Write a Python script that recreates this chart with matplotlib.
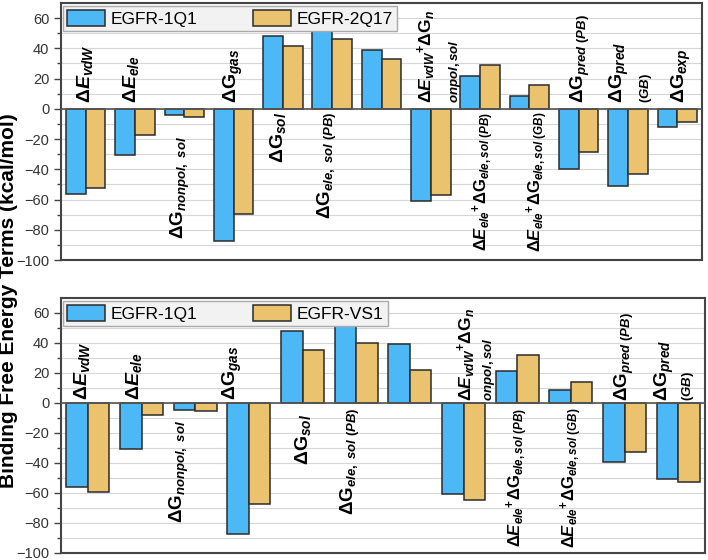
import matplotlib
matplotlib.use("Agg")
import matplotlib.pyplot as plt
from matplotlib.patches import Patch
import numpy as np

plt.rcParams['font.family'] = ['Liberation Sans', 'DejaVu Sans']
plt.rcParams['mathtext.fontset'] = 'custom'
plt.rcParams['mathtext.rm'] = 'Liberation Sans:bold'
plt.rcParams['mathtext.it'] = 'Liberation Sans:italic:bold'
plt.rcParams['mathtext.bf'] = 'Liberation Sans:bold'
plt.rcParams['mathtext.sf'] = 'Liberation Sans:bold'

# ---------------- data ----------------
series_top = ["EGFR-1Q1", "EGFR-2Q17"]
top_1q1 = [-56.5, -30.7, -4.4, -87.2, 47.9, 52.3, 39.1, -61.1, 21.4, 8.4, -39.5, -50.8, -11.9]
top_2q17 = [-52.5, -17.2, -5.1, -69.5, 41.3, 46.1, 33.3, -57.2, 28.9, 16.1, -28.5, -43.3, -8.6]

series_bot = ["EGFR-1Q1", "EGFR-VS1"]
bot_1q1 = [-56.2, -30.7, -4.4, -87.3, 48.0, 52.0, 39.1, -60.7, 21.6, 8.4, -39.3, -50.4]
bot_vs1 = [-59.6, -8.0, -5.6, -67.3, 35.1, 40.2, 22.2, -64.7, 32.2, 14.2, -32.7, -52.7]

labels = [
    r'$\Delta E_{vdW}$',
    r'$\Delta E_{ele}$',
    r'$\Delta \mathrm{G}_{nonpol,\ sol}$',
    r'$\Delta \mathrm{G}_{gas}$',
    r'$\Delta \mathrm{G}_{sol}$',
    r'$\Delta \mathrm{G}_{ele,\ sol\ (PB)}$',
    None,
    r'$\Delta E_{vdW}{}^{+}\Delta \mathrm{G}_{n}$',
    r'$\Delta E_{ele}{}^{+}\Delta \mathrm{G}_{ele,sol\ (PB)}$',
    r'$\Delta E_{ele}{}^{+}\Delta \mathrm{G}_{ele,sol\ (GB)}$',
    r'$\Delta \mathrm{G}_{pred\ (PB)}$',
    r'$\Delta \mathrm{G}_{pred}$',
    r'$\Delta \mathrm{G}_{exp}$',
]
extra_labels = {7: r'$onpol,sol$', 11: r'$(GB)$'}

yticks = [-100, -80, -60, -40, -20, 0, 20, 40, 60]
ylabel = "Binding Free Energy Terms (kcal/mol)"

# ---------------- layout / style ----------------
BLUE = "#4cb8f5"
GOLD = "#ebc36e"
EDGE = "#2b2b2b"
label_sizes = [14, 14, 13.5, 14, 14, 13.5, 14, 12.5, 12, 12, 13.5, 14, 14]

# label placement: (x offset from group centre, y anchor, va)
top_place = [(-0.02, 4, 'bottom'), (-0.08, 4, 'bottom'), (-0.08, -18, 'top'), (0.0, 4, 'bottom'),
             (-0.1, -2, 'top'), (-0.1, -2, 'top'), None, (-0.1, 4, 'bottom'),
             (0.06, -2, 'top'), (0.16, -2, 'top'), (0.04, 4, 'bottom'), (-0.18, 4, 'bottom'),
             (0.08, 4, 'bottom')]
top_extra = {7: (0.5, 4), 11: (0.36, 4)}
bot_place = [(-0.1, 2, 'bottom'), (-0.14, 2, 'bottom'), (-0.3, -11, 'top'), (-0.3, 2, 'bottom'),
             (0.0, -7, 'top'), (-0.1, -3, 'top'), None, (0.05, 1, 'bottom'),
             (0.0, -3, 'top'), (0.0, -3, 'top'), (0.0, 1, 'bottom'), (-0.25, 1, 'bottom')]
bot_extra = {7: (0.48, 1), 11: (0.18, 1)}

fig = plt.figure(figsize=(7.08, 5.6), dpi=100)
ax1 = fig.add_axes([0.0862, 0.5357, 0.9915 - 0.0862, 0.9946 - 0.5357])
ax2 = fig.add_axes([0.0862, 0.0125, 0.9958 - 0.0862, 0.4679 - 0.0125])


def draw(ax, a, b, names, place, extra):
    n = len(a)
    x = np.arange(1, n + 1)
    w = 0.4
    ax.bar(x - w / 2, a, w, color=BLUE, edgecolor=EDGE, linewidth=1.1, zorder=3)
    ax.bar(x + w / 2, b, w, color=GOLD, edgecolor=EDGE, linewidth=1.1, zorder=3)
    ax.axhline(0, color="#555555", lw=1.2, zorder=4)
    ax.set_xlim(0.5, n + 0.5)
    ax.set_ylim(-100, 70)
    ax.set_yticks(yticks)
    ax.set_yticks(np.arange(-90, 70, 20), minor=True)
    ax.set_xticks([])
    ax.grid(True, which='both', axis='y', color='#d6d6d6', lw=0.8, zorder=0)
    ax.set_axisbelow(True)
    ax.tick_params(axis='y', which='major', length=5, width=1, color='#444', labelsize=10.5,
                   labelcolor='#333333', direction='out')
    ax.tick_params(axis='y', which='minor', length=3, width=1, color='#444', direction='out')
    for s in ax.spines.values():
        s.set_color('#444444')
        s.set_linewidth(1.5)
    for i in range(n):
        if labels[i] is None or place[i] is None:
            continue
        dx, yy, va = place[i]
        ax.text(x[i] + dx, yy, labels[i], rotation=90, ha='center', va=va,
                fontsize=label_sizes[i], color='black', zorder=5)
    for i, (dx, yy) in extra.items():
        ax.text(x[i] + dx, yy, extra_labels[i], rotation=90, ha='center', va='bottom',
                fontsize=9.5, color='black', zorder=5)
    handles = [Patch(facecolor=BLUE, edgecolor=EDGE, lw=1.1),
               Patch(facecolor=GOLD, edgecolor=EDGE, lw=1.1)]
    leg = ax.legend(handles, names, loc='upper left', bbox_to_anchor=(0.003, 0.99),
                    borderaxespad=0, ncol=2, fontsize=12.5, handlelength=2.2,
                    handleheight=1.05, handletextpad=0.3, columnspacing=3.2,
                    borderpad=0.25, fancybox=False, framealpha=1)
    leg.get_frame().set_facecolor('#f2f2f2')
    leg.get_frame().set_edgecolor('#aaaaaa')
    leg.set_zorder(6)


draw(ax1, top_1q1, top_2q17, series_top, top_place, top_extra)
draw(ax2, bot_1q1, bot_vs1, series_bot, bot_place, bot_extra)

fig.text(0.0125, 0.4625, ylabel, rotation=90, ha='center', va='center',
         fontsize=15, fontweight='bold', color='black')

fig.savefig("out.png", dpi=100)
